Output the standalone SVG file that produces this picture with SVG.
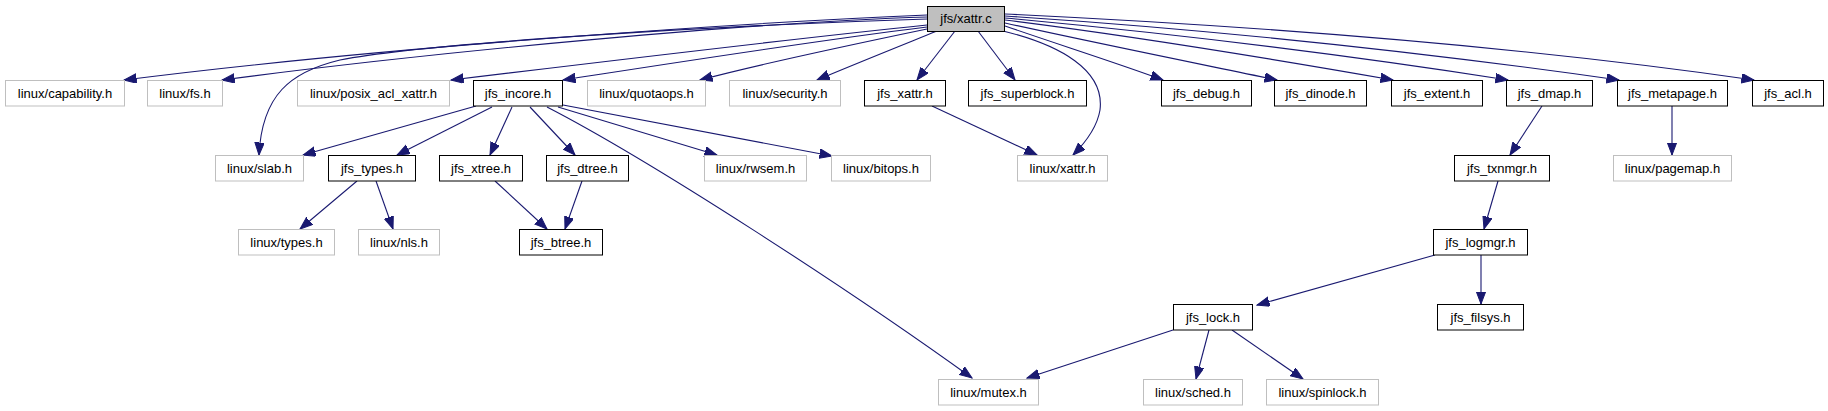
<svg xmlns="http://www.w3.org/2000/svg" width="1828" height="411" viewBox="0 0 1828 411">
<style>
.n rect{fill:#fff;stroke:#000;stroke-width:1}
.g rect{stroke:#bfbfbf}
.root rect{fill:#bfbfbf}
text{font-family:"Liberation Sans",Arial,sans-serif;font-size:13px;text-anchor:middle;fill:#000}
.e path{fill:none;stroke:#191970;stroke-width:1.1;marker-end:url(#ah)}
</style>
<defs>
<marker id="ah" markerUnits="userSpaceOnUse" markerWidth="14" markerHeight="11" refX="12.5" refY="4.75" orient="auto">
<path d="M0,0 L12.5,4.75 L0,9.5 z" fill="#191970" stroke="#191970" stroke-width="1"/>
</marker>
</defs>
<g id="edges" class="e">
<path d="M927,15 C760,22 400,45 124,80"/>
<path d="M927,17 C760,22 450,50 222,80"/>
<path d="M927,19 C700,26 420,44 340,60 C290,72 262,95 259,155"/>
<path d="M927,25 C800,38 600,62 451,80"/>
<path d="M927,27 C820,40 680,62 563,80"/>
<path d="M927,29 C850,45 760,64 700,80"/>
<path d="M937,31 C890,50 850,66 817,80"/>
<path d="M955,31 L917,80"/>
<path d="M978,31 L1015,80"/>
<path d="M1003,31 C1060,45 1105,70 1100,110 C1097,128 1085,143 1073,155"/>
<path d="M1005,26 C1060,45 1120,64 1163,80"/>
<path d="M1005,23 C1100,44 1200,64 1277,80"/>
<path d="M1005,20 C1150,38 1290,62 1393,80"/>
<path d="M1005,18 C1200,36 1380,60 1508,80"/>
<path d="M1005,16 C1250,32 1450,56 1619,80"/>
<path d="M1005,14 C1300,28 1560,52 1754,80"/>
<path d="M476,106 L303,155"/>
<path d="M492,107 L397,155"/>
<path d="M512,107 L490,155"/>
<path d="M530,107 L575,155"/>
<path d="M547,107 C650,160 850,290 972,378"/>
<path d="M558,107 L717,155"/>
<path d="M563,105 L832,156"/>
<path d="M357,181 L300,229"/>
<path d="M376,181 L393,229"/>
<path d="M495,181 L547,229"/>
<path d="M582,181 L565,229"/>
<path d="M932,106 L1037,155"/>
<path d="M1542,106 L1510,155"/>
<path d="M1672,106 L1672,155"/>
<path d="M1498,181 L1484,229"/>
<path d="M1435,255 L1257,305"/>
<path d="M1481,255 L1481,304"/>
<path d="M1173,330 L1027,378"/>
<path d="M1209,330 L1196,379"/>
<path d="M1232,330 L1303,379"/>
</g>
<g id="n_xattr_c" class="n root"><rect x="927.5" y="6.5" width="77" height="25"/><text x="966" y="23">jfs/xattr.c</text></g>
<g id="n_capability" class="n g"><rect x="5.5" y="80.5" width="119" height="25.5"/><text x="65" y="97.5">linux/capability.h</text></g>
<g id="n_fs" class="n g"><rect x="147.5" y="80.5" width="75" height="25.5"/><text x="185" y="97.5">linux/fs.h</text></g>
<g id="n_posix" class="n g"><rect x="297.5" y="80.5" width="152" height="25.5"/><text x="373.5" y="97.5">linux/posix_acl_xattr.h</text></g>
<g id="n_incore" class="n"><rect x="473.5" y="80.5" width="89" height="25.5"/><text x="518" y="97.5">jfs_incore.h</text></g>
<g id="n_quotaops" class="n g"><rect x="587.5" y="80.5" width="118" height="25.5"/><text x="646.5" y="97.5">linux/quotaops.h</text></g>
<g id="n_security" class="n g"><rect x="729.5" y="80.5" width="111" height="25.5"/><text x="785" y="97.5">linux/security.h</text></g>
<g id="n_jfs_xattr" class="n"><rect x="864.5" y="80.5" width="81" height="25.5"/><text x="905" y="97.5">jfs_xattr.h</text></g>
<g id="n_superblock" class="n"><rect x="968.5" y="80.5" width="118" height="25.5"/><text x="1027.5" y="97.5">jfs_superblock.h</text></g>
<g id="n_debug" class="n"><rect x="1161.5" y="80.5" width="90" height="25.5"/><text x="1206.5" y="97.5">jfs_debug.h</text></g>
<g id="n_dinode" class="n"><rect x="1274.5" y="80.5" width="92" height="25.5"/><text x="1320.5" y="97.5">jfs_dinode.h</text></g>
<g id="n_extent" class="n"><rect x="1391.5" y="80.5" width="91" height="25.5"/><text x="1437" y="97.5">jfs_extent.h</text></g>
<g id="n_dmap" class="n"><rect x="1506.5" y="80.5" width="86" height="25.5"/><text x="1549.5" y="97.5">jfs_dmap.h</text></g>
<g id="n_metapage" class="n"><rect x="1617.5" y="80.5" width="110" height="25.5"/><text x="1672.5" y="97.5">jfs_metapage.h</text></g>
<g id="n_acl" class="n"><rect x="1752.5" y="80.5" width="71" height="25.5"/><text x="1788" y="97.5">jfs_acl.h</text></g>
<g id="n_slab" class="n g"><rect x="215.5" y="155.5" width="88" height="25.5"/><text x="259.5" y="172.5">linux/slab.h</text></g>
<g id="n_types" class="n"><rect x="328.5" y="155.5" width="87" height="25.5"/><text x="372" y="172.5">jfs_types.h</text></g>
<g id="n_xtree" class="n"><rect x="439.5" y="155.5" width="83" height="25.5"/><text x="481" y="172.5">jfs_xtree.h</text></g>
<g id="n_dtree" class="n"><rect x="546.5" y="155.5" width="82" height="25.5"/><text x="587.5" y="172.5">jfs_dtree.h</text></g>
<g id="n_rwsem" class="n g"><rect x="704.5" y="155.5" width="102" height="25.5"/><text x="755.5" y="172.5">linux/rwsem.h</text></g>
<g id="n_bitops" class="n g"><rect x="831.5" y="155.5" width="99" height="25.5"/><text x="881" y="172.5">linux/bitops.h</text></g>
<g id="n_lxattr" class="n g"><rect x="1017.5" y="155.5" width="90" height="25.5"/><text x="1062.5" y="172.5">linux/xattr.h</text></g>
<g id="n_txnmgr" class="n"><rect x="1454.5" y="155.5" width="95" height="25.5"/><text x="1502" y="172.5">jfs_txnmgr.h</text></g>
<g id="n_pagemap" class="n g"><rect x="1613.5" y="155.5" width="118" height="25.5"/><text x="1672.5" y="172.5">linux/pagemap.h</text></g>
<g id="n_ltypes" class="n g"><rect x="238.5" y="229.5" width="96" height="25.5"/><text x="286.5" y="246.5">linux/types.h</text></g>
<g id="n_nls" class="n g"><rect x="358.5" y="229.5" width="81" height="25.5"/><text x="399" y="246.5">linux/nls.h</text></g>
<g id="n_btree" class="n"><rect x="519.5" y="229.5" width="83" height="25.5"/><text x="561" y="246.5">jfs_btree.h</text></g>
<g id="n_logmgr" class="n"><rect x="1433.5" y="229.5" width="94" height="25.5"/><text x="1480.5" y="246.5">jfs_logmgr.h</text></g>
<g id="n_lock" class="n"><rect x="1173.5" y="304.5" width="79" height="25.5"/><text x="1213" y="321.5">jfs_lock.h</text></g>
<g id="n_filsys" class="n"><rect x="1437.5" y="304.5" width="86" height="25.5"/><text x="1480.5" y="321.5">jfs_filsys.h</text></g>
<g id="n_mutex" class="n g"><rect x="938.5" y="379.5" width="100" height="25.5"/><text x="988.5" y="396.5">linux/mutex.h</text></g>
<g id="n_sched" class="n g"><rect x="1143.5" y="379.5" width="99" height="25.5"/><text x="1193" y="396.5">linux/sched.h</text></g>
<g id="n_spinlock" class="n g"><rect x="1266.5" y="379.5" width="112" height="25.5"/><text x="1322.5" y="396.5">linux/spinlock.h</text></g>
</svg>
